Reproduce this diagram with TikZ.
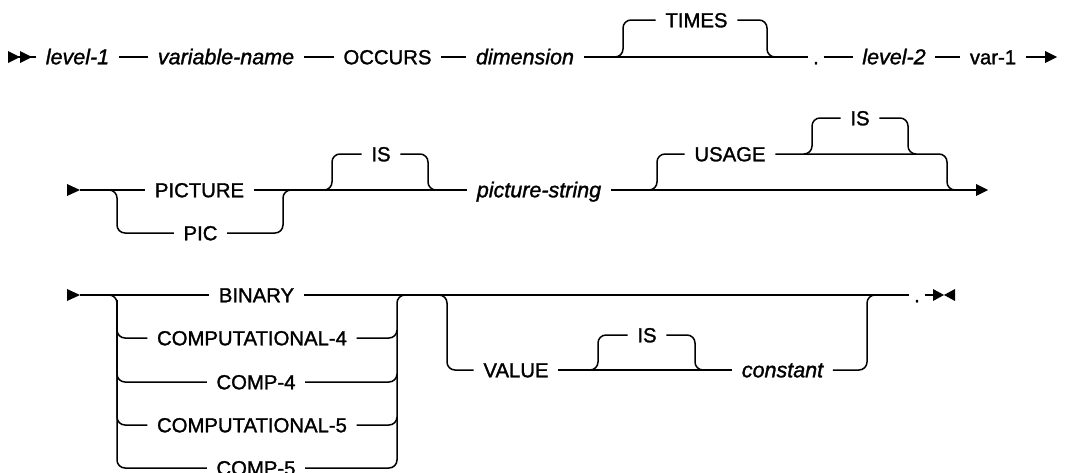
\documentclass[tikz,border=0pt]{standalone}
\usepackage{fontspec}
\setmainfont{Liberation Sans}[FakeBold=1.4]
\begin{document}
\begin{tikzpicture}[x=1pt,y=-1pt,line width=1.5pt,
  rr/.style={draw,rounded corners=8pt},
  txt/.style={inner xsep=9pt,inner ysep=0pt,text height=14.5pt,text depth=0pt},
  kw/.style={txt,font=\fontsize{20.3}{21}\selectfont},
  var/.style={txt,font=\fontsize{21.5}{22}\selectfont\itshape},
  dotn/.style={kw,inner xsep=4pt}]
\clip (0,0) rectangle (1067,472);
% ---------- row 1
\coordinate (s1) at (8,57);
\coordinate (e1) at (1057,57);
\node[var] (lvl1) at (77.5,57) {level-1};
\node[var] (vname) at (226,57) {variable-name};
\node[kw] (occurs) at (387.5,57) {OCCURS};
\node[var] (dim) at (525,57) {dimension};
\node[kw] (times) at (696.5,20) {TIMES};
\node[dotn] (dot1) at (816,57) {.};
\node[var] (lvl2) at (894,57) {level-2};
\node[kw] (var1) at (993,57) {var-1};
\fill (8,51)--(20,57)--(8,63)--cycle;
\fill (20,51)--(32,57)--(20,63)--cycle;
\draw (s1)--(lvl1.west);
\draw (lvl1.east)--(vname.west);
\draw (vname.east)--(occurs.west);
\draw (occurs.east)--(dim.west);
\draw (dim.east)--(dot1.west);
\draw[rr] (613,57)--(623,57)--(623,20)--(times.west);
\draw[rr] (times.east)--(767,20)--(767,57)--(777,57);
\draw (dot1.east)--(lvl2.west);
\draw (lvl2.east)--(var1.west);
\draw (var1.east)--(1048,57);
\fill (1045,51)--(e1)--(1045,63)--cycle;
% ---------- row 2
\coordinate (s2) at (80,190);
\coordinate (e2) at (988,190);
\fill (67,184)--(s2)--(67,196)--cycle;
\node[kw] (picture) at (199.5,190) {PICTURE};
\node[kw] (pic) at (200.5,233) {PIC};
\node[kw] (is1) at (381,154) {IS};
\node[var] (psn) at (539,190) {picture-string};
\node[kw] (usage) at (730,154) {USAGE};
\node[kw] (is2) at (860,118) {IS};
\draw (s2)--(picture.west);
\draw[rr] (110,190)--(117,190)--(117,233)--(pic.west);
\draw[rr] (pic.east)--(283,233)--(283,190)--(290,190);
\draw (picture.east)--(psn.west);
\draw[rr] (325,190)--(332,190)--(332,154)--(is1.west);
\draw[rr] (is1.east)--(428,154)--(428,190)--(435,190);
\draw (psn.east)--(980,190);
\fill (976,184)--(e2)--(976,196)--cycle;
\draw[rr] (650,190)--(657,190)--(657,154)--(usage.west);
\draw[rr] (usage.east)--(947,154)--(947,190)--(955,190);
\draw[rr] (805,154)--(812,154)--(812,118)--(is2.west);
\draw[rr] (is2.east)--(908,118)--(908,154)--(915,154);
% ---------- row 3
\coordinate (s3) at (80,295);
\fill (67,289)--(s3)--(67,301)--cycle;
\node[kw] (binary) at (256.5,295) {BINARY};
\node[kw] (c4) at (252,338) {COMPUTATIONAL-4};
\node[kw] (cp4) at (256,382) {COMP-4};
\node[kw] (c5) at (252,425) {COMPUTATIONAL-5};
\node[kw] (cp5) at (256,468) {COMP-5};
\node[kw] (value) at (516,370) {VALUE};
\node[kw] (is3) at (647,335) {IS};
\node[var] (const) at (782.5,370) {constant};
\node[dotn] (dot3) at (917,295) {.};
\coordinate (e3) at (933,295);
\draw (s3)--(binary.west);
\draw[rr] (110,295)--(117,295)--(117,468)--(cp5.west);
\draw[rr] (117,300)--(117,338)--(c4.west);
\draw[rr] (117,300)--(117,382)--(cp4.west);
\draw[rr] (117,300)--(117,425)--(c5.west);
\draw[rr] (cp5.east)--(397,468)--(397,295)--(405,295);
\draw[rr] (c4.east)--(397,338)--(397,330);
\draw[rr] (cp4.east)--(397,382)--(397,374);
\draw[rr] (c5.east)--(397,425)--(397,417);
\draw (binary.east)--(dot3.west);
\draw[rr] (440,295)--(447,295)--(447,370)--(value.west);
\draw (value.east)--(const.west);
\draw[rr] (591,370)--(598,370)--(598,335)--(is3.west);
\draw[rr] (is3.east)--(695,335)--(695,370)--(703,370);
\draw[rr] (const.east)--(867,370)--(867,295)--(875,295);
\draw (dot3.east)--(e3);
\fill (933,289)--(944,295)--(933,301)--cycle;
\fill (955,289)--(944,295)--(955,301)--cycle;
\end{tikzpicture}
\end{document}
